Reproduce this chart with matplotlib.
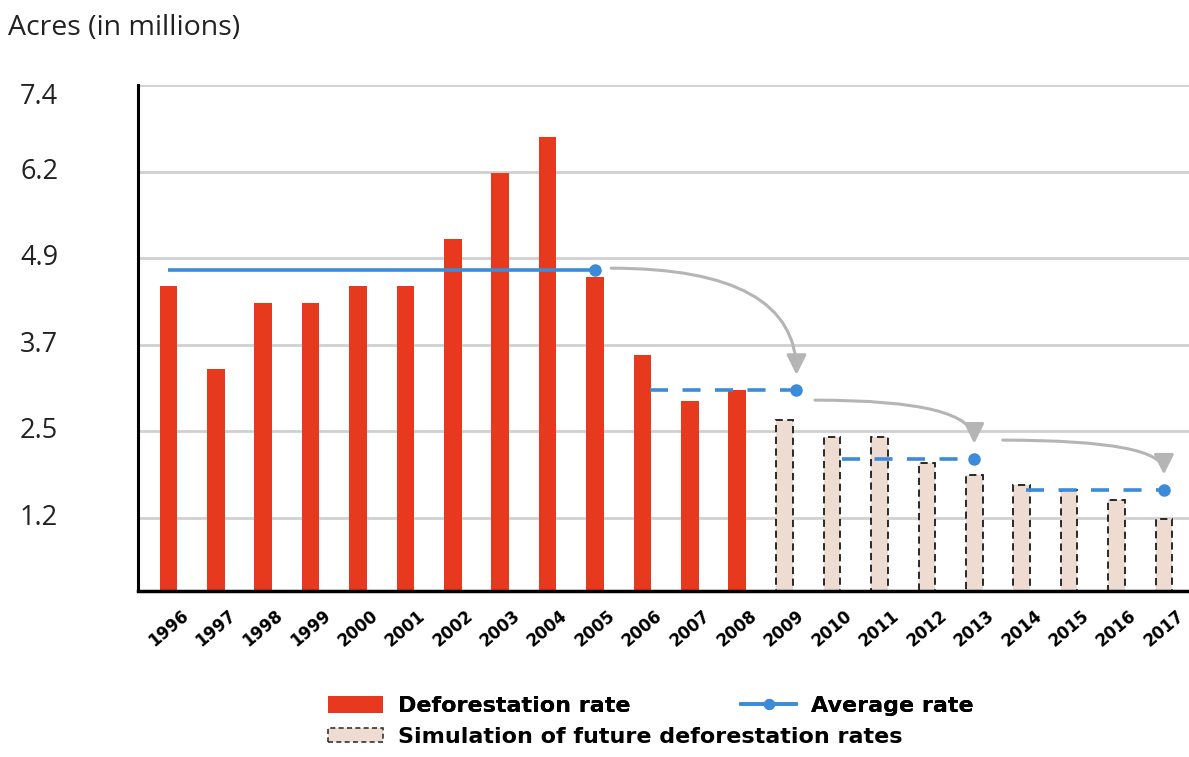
import matplotlib
matplotlib.use('Agg')
import matplotlib.pyplot as plt
from matplotlib.patches import Patch, FancyArrowPatch
from matplotlib.lines import Line2D
from matplotlib import transforms

# data
years = [str(y) for y in range(1996, 2018)]
actual = [4.53, 3.35, 4.29, 4.29, 4.53, 4.53, 5.21, 6.14, 6.66, 4.66, 3.55, 2.90, 3.05]
simulated = [2.63, 2.39, 2.39, 2.02, 1.85, 1.70, 1.63, 1.48, 1.21]

# average-rate segments (start/end in year-index units, level)
avg_start = [0, 10.17, 14.2, 18.1]
avg_end = [9, 13.25, 17, 21]
avg_level = [4.77, 3.05, 2.07, 1.63]

ytick_vals = [7.4 / 6 * k for k in range(1, 7)]
ytick_labels = ['1.2', '2.5', '3.7', '4.9', '6.2', '7.4']

RED = '#e6391e'
BLUE = '#3b8bd9'
SIM = '#eedcd2'
GREY = '#b5b5b5'

fig = plt.figure(figsize=(11.89, 7.57), dpi=100)
ax = fig.add_axes([138 / 1189, 1 - 591 / 757, 1 - 138 / 1189, (591 - 85) / 757])

x_act = list(range(len(actual)))
x_sim = list(range(len(actual), len(years)))
ax.bar(x_act, actual, width=0.37, color=RED, zorder=2)
ax.bar(x_sim, simulated, width=0.35, facecolor=SIM, edgecolor='#1a1a1a',
       linestyle=(0, (4, 2.5)), linewidth=1.3, zorder=2)

# average lines, first solid, the rest dashed
for i in range(len(avg_level)):
    ls = '-' if i == 0 else (0, (5, 4))
    ax.plot([avg_start[i], avg_end[i]], [avg_level[i]] * 2, color=BLUE, lw=2.6,
            linestyle=ls, zorder=4, solid_capstyle='butt')
    ax.plot(avg_end[i], avg_level[i], 'o', color=BLUE, ms=8, zorder=5)

# curved grey arrows from one average to the next
start_dx = [0.34, 0.39, 0.6]
start_dy = [0.02, -0.14, 0.27]
for i in range(len(avg_level) - 1):
    p0 = (avg_end[i] + start_dx[i], avg_level[i] + start_dy[i])
    p1 = (avg_end[i + 1], avg_level[i + 1] + 0.22)
    arr = FancyArrowPatch(p0, p1, connectionstyle='angle3,angleA=0,angleB=90',
                          arrowstyle='-|>,head_length=0.6,head_width=0.3',
                          mutation_scale=20, color=GREY, lw=2.2,
                          shrinkA=0, shrinkB=0, zorder=3)
    ax.add_patch(arr)

ax.set_xlim(-0.64, 21.53)
ax.set_ylim(0.19, 7.4)
ax.set_xticks(range(len(years)))
ax.set_xticklabels(years, rotation=40, ha='center', va='top',
                   fontsize=12, fontweight='bold', family='DejaVu Sans')
ax.tick_params(axis='x', length=0, pad=11)
ax.set_yticks(ytick_vals)
ax.set_yticklabels([])
ax.tick_params(axis='y', length=0)
ax.yaxis.grid(True, color='#d0d0d0', lw=2)
ax.set_axisbelow(True)
for s in ['top', 'right']:
    ax.spines[s].set_visible(False)
ax.spines['left'].set_linewidth(2.2)
ax.spines['bottom'].set_linewidth(2.5)

# y labels, left-aligned at the figure edge
trans = transforms.blended_transform_factory(fig.transFigure, ax.transData)
for v, lab in zip(ytick_vals, ytick_labels):
    dy = -9 if lab == ytick_labels[-1] else 0
    ax.annotate(lab, xy=(20 / 1189, v), xycoords=trans, xytext=(0, dy),
                textcoords='offset points', ha='left', va='center',
                fontsize=19.5, family='Open Sans', color='#222222', annotation_clip=False)

fig.text(8 / 1189, 1 - 35 / 757, 'Acres (in millions)', ha='left', va='baseline',
         fontsize=20.5, family='Open Sans', color='#222222')

# legend rows
leg_font = {'family': 'DejaVu Sans', 'weight': 'bold', 'size': 16}
h_def = Patch(facecolor=RED, edgecolor='none')
h_avg = Line2D([0], [0], color=BLUE, lw=2.6, marker='o', ms=7)
h_sim = Patch(facecolor=SIM, edgecolor='#333333', linestyle=(0, (3, 2)), linewidth=1.2)
leg1 = fig.legend([h_def, h_avg], ['Deforestation rate', 'Average rate'], ncol=2,
                  loc='center left', bbox_to_anchor=(328 / 1189, 1 - 706 / 757),
                  frameon=False, prop=leg_font, borderpad=0, borderaxespad=0,
                  handlelength=2.48, handleheight=0.8, handletextpad=0.65,
                  columnspacing=5.0)
fig.add_artist(leg1)
fig.legend([h_sim], ['Simulation of future deforestation rates'],
           loc='center left', bbox_to_anchor=(328 / 1189, 1 - 737 / 757),
           frameon=False, prop=leg_font, borderpad=0, borderaxespad=0,
           handlelength=2.48, handleheight=0.6, handletextpad=0.65)

fig.savefig('out.png', dpi=100)
